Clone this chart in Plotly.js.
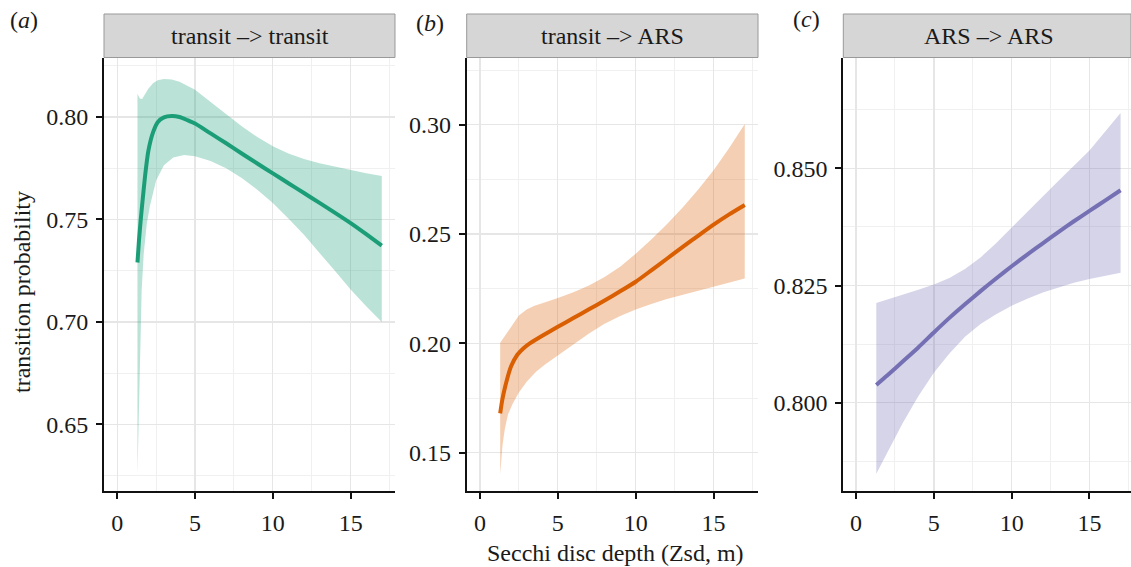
<!DOCTYPE html>
<html>
<head>
<meta charset="utf-8">
<script src="https://cdn.plot.ly/plotly-3.0.1.min.js"></script>
<style>html,body{margin:0;padding:0;background:#fff;}#chart{width:1131px;height:567px;}</style>
</head>
<body>
<div id="chart"></div>
<script>
// ---- Data ----
const panelTitles = ["transit \u2013> transit", "transit \u2013> ARS", "ARS \u2013> ARS"];
const panelLetters = ["a", "b", "c"];
const xTitle = "Secchi disc depth (Zsd, m)";
const yTitle = "transition probability";

// Panel a: transit -> transit
const aLineX = [1.3,1.4,1.5,1.6,1.8,2.0,2.3,2.6,3.0,3.5,4.0,4.5,5,6,7,8,9,10,11,12,13,14,15,16,17];
const aLineY = [0.729,0.740,0.749,0.757,0.772,0.7835,0.7925,0.7975,0.7998,0.8005,0.8000,0.7985,0.7968,0.7920,0.7872,0.7822,0.7773,0.7725,0.7677,0.7629,0.7581,0.7532,0.7482,0.7428,0.7372];
const aUpX = [1.3,1.45,1.6,1.8,2.0,2.3,2.6,3.0,3.5,4.0,5,6,7,8,9,10,11,12,13,14,15,16,17];
const aUpY = [0.8113,0.809,0.8088,0.8112,0.8138,0.8165,0.818,0.8186,0.8183,0.8172,0.8133,0.8073,0.8012,0.7955,0.7902,0.7857,0.7822,0.7795,0.7774,0.7757,0.7741,0.7726,0.7712];
const aLoX = [1.3,1.38,1.46,1.57,1.7,1.9,2.1,2.5,3.0,3.6,4.3,5,6,7,8,9,10,11,12,13,14,15,16,17];
const aLoY = [0.6255,0.650,0.683,0.7156,0.733,0.748,0.7566,0.769,0.7765,0.7803,0.7815,0.7808,0.7785,0.7750,0.7703,0.7645,0.7580,0.7505,0.7425,0.7338,0.7248,0.7158,0.7077,0.7000];

// Panel b: transit -> ARS
const bLineX = [1.3,1.4,1.5,1.7,2.0,2.4,2.8,3.2,4,5,6,7,8,9,10,11,12,13,14,15,16,17];
const bLineY = [0.168,0.1728,0.1765,0.1825,0.1895,0.1948,0.1978,0.2000,0.2035,0.2076,0.2116,0.2156,0.2196,0.2238,0.2282,0.2334,0.2387,0.2440,0.2492,0.2543,0.2590,0.2633];
const bUpX = [1.3,1.6,1.9,2.2,2.5,3.0,3.5,4.0,5,6,7,8,9,10,11,12,13,14,15,16,17];
const bUpY = [0.2003,0.2035,0.2069,0.210,0.2127,0.2155,0.2172,0.2184,0.2207,0.2234,0.2265,0.2303,0.2350,0.2410,0.2475,0.2545,0.2620,0.2703,0.2792,0.2893,0.3003];
const bLoX = [1.3,1.35,1.45,1.6,1.8,2.1,2.5,3.0,3.6,4.2,5,6,7,8,9,10,11,12,13,14,15,16,17];
const bLoY = [0.140,0.1445,0.1535,0.161,0.1675,0.1724,0.1775,0.1825,0.187,0.1905,0.1945,0.1995,0.2045,0.209,0.2125,0.2155,0.2180,0.2203,0.2223,0.2242,0.2260,0.2278,0.2297];

// Panel c: ARS -> ARS
const cLineX = [1.3,2,3,4,5,6,7,8,9,10,11,12,13,14,15,16,17];
const cLineY = [0.8038,0.8058,0.8088,0.8118,0.8150,0.8181,0.8210,0.8238,0.8265,0.8291,0.8316,0.8340,0.8364,0.8387,0.8409,0.8431,0.8453];
const cUpX = [1.3,2,3,4,5,6,7,8,9,10,11,12,13,14,15,16,17];
const cUpY = [0.8213,0.8220,0.8231,0.8241,0.8252,0.8266,0.8285,0.8310,0.8340,0.8374,0.8407,0.8440,0.8473,0.8505,0.8538,0.8578,0.8618];
const cLoX = [1.3,2,3,4,5,6,7,8,9,10,11,12,13,14,15,16,17];
const cLoY = [0.7849,0.7893,0.7957,0.8014,0.8064,0.8105,0.8141,0.8168,0.8189,0.8207,0.8222,0.8235,0.8246,0.8256,0.8264,0.8271,0.8277];

const xTickVals = [0,5,10,15];
const aYTicks = [0.65,0.70,0.75,0.80];
const bYTicks = [0.15,0.20,0.25,0.30];
const cYTicks = [0.800,0.825,0.850];

// ---- Styling ----
const W = 1131, H = 567;
const FONT = '"Liberation Serif", "Times New Roman", "DejaVu Serif", serif';
const FS = 24;
const colors = ["#1B9E77", "#D95F02", "#7570B3"];
const fills = ["rgba(27,158,119,0.3)", "rgba(217,95,2,0.3)", "rgba(117,112,179,0.3)"];

const px = (x) => x / W;
const py = (y) => 1 - y / H;
const plotTop = 58, plotBot = 491, stripTop = 14;
const xDomains = [[px(104), px(395)], [px(466.7), px(758)], [px(843.3), 1]];
const xRanges = [[-0.85, 17.85], [-0.85, 17.85], [-0.82, 17.67]];
const yRanges = [[0.6175, 0.8288], [0.1325, 0.3305], [0.7812, 0.8735]];
const yTickSets = [aYTicks, bYTicks, cYTicks];
const yTickText = [aYTicks.map(v => v.toFixed(2)), bYTicks.map(v => v.toFixed(2)), cYTicks.map(v => v.toFixed(3))];
const yMinor = [0.025, 0.025, 0.0125];

const series = [
  {lx: aLineX, ly: aLineY, ux: aUpX, uy: aUpY, ox: aLoX, oy: aLoY},
  {lx: bLineX, ly: bLineY, ux: bUpX, uy: bUpY, ox: bLoX, oy: bLoY},
  {lx: cLineX, ly: cLineY, ux: cUpX, uy: cUpY, ox: cLoX, oy: cLoY}
];

const traces = [];
const layout = {
  width: W, height: H,
  margin: {l: 0, r: 0, t: 0, b: 0},
  paper_bgcolor: "#fff", plot_bgcolor: "#fff",
  showlegend: false,
  font: {family: FONT, size: FS, color: "#1a1a1a"},
  shapes: [], annotations: []
};

series.forEach((s, i) => {
  const xa = i === 0 ? "x" : "x" + (i + 1);
  const ya = i === 0 ? "y" : "y" + (i + 1);
  const polyX = s.ux.concat(s.ox.slice().reverse());
  const polyY = s.uy.concat(s.oy.slice().reverse());
  traces.push({type: "scatter", mode: "lines", x: polyX, y: polyY, fill: "toself",
    fillcolor: fills[i], line: {width: 0, color: fills[i]}, xaxis: xa, yaxis: ya, hoverinfo: "skip"});
  traces.push({type: "scatter", mode: "lines", x: s.lx, y: s.ly,
    line: {color: colors[i], width: 4, shape: "spline", smoothing: 0.6}, xaxis: xa, yaxis: ya});

  const xk = i === 0 ? "xaxis" : "xaxis" + (i + 1);
  const yk = i === 0 ? "yaxis" : "yaxis" + (i + 1);
  layout[xk] = {
    domain: xDomains[i], range: xRanges[i], anchor: ya,
    tickvals: xTickVals, ticktext: xTickVals.map(String),
    ticks: "outside", ticklen: 6, tickwidth: 2, tickcolor: "#111",
    ticklabelstandoff: 3,
    showline: true, linecolor: "#111", linewidth: 2,
    showgrid: true, gridcolor: "#E6E6E6", gridwidth: 1.3,
    minor: {dtick: 2.5, tick0: 0, showgrid: true, gridcolor: "#F0F0F0", gridwidth: 1},
    zeroline: false, tickfont: {family: FONT, size: FS, color: "#1a1a1a"}, fixedrange: true
  };
  layout[yk] = {
    domain: [py(plotBot), py(plotTop)], range: yRanges[i], anchor: xa,
    tickvals: yTickSets[i], ticktext: yTickText[i],
    ticks: "outside", ticklen: 6, tickwidth: 2, tickcolor: "#111",
    ticklabelstandoff: 3,
    showline: true, linecolor: "#111", linewidth: 2,
    showgrid: true, gridcolor: "#E6E6E6", gridwidth: 1.3,
    minor: {dtick: yMinor[i], tick0: 0, showgrid: true, gridcolor: "#F0F0F0", gridwidth: 1},
    zeroline: false, tickfont: {family: FONT, size: FS, color: "#1a1a1a"}, fixedrange: true
  };

  layout.shapes.push({type: "rect", xref: "paper", yref: "paper",
    x0: xDomains[i][0], x1: xDomains[i][1], y0: py(plotTop - 0.5), y1: py(stripTop),
    fillcolor: "#D6D6D6", line: {color: "#999999", width: 1}, layer: "above"});
  layout.annotations.push({xref: "paper", yref: "paper",
    x: (xDomains[i][0] + (i === 2 ? px(1134) : xDomains[i][1])) / 2, y: py((plotTop + stripTop) / 2),
    text: panelTitles[i], showarrow: false, xanchor: "center", yanchor: "middle",
    font: {family: FONT, size: FS, color: "#1a1a1a"}});
});

const letterPos = [[24, 20], [430, 23], [806, 19]];
panelLetters.forEach((l, i) => {
  layout.annotations.push({xref: "paper", yref: "paper", x: px(letterPos[i][0]), y: py(letterPos[i][1]),
    text: "(<i>" + l + "</i>)", showarrow: false, xanchor: "center", yanchor: "middle",
    font: {family: FONT, size: FS, color: "#1a1a1a"}});
});

layout.annotations.push({xref: "paper", yref: "paper", x: px(615), y: py(553), text: xTitle,
  showarrow: false, xanchor: "center", yanchor: "middle", font: {family: FONT, size: FS, color: "#1a1a1a"}});
layout.annotations.push({xref: "paper", yref: "paper", x: px(22), y: py(292), text: yTitle, textangle: -90,
  showarrow: false, xanchor: "center", yanchor: "middle", font: {family: FONT, size: FS, color: "#1a1a1a"}});

Plotly.newPlot("chart", traces, layout, {staticPlot: true, displayModeBar: false});
</script>
</body>
</html>
